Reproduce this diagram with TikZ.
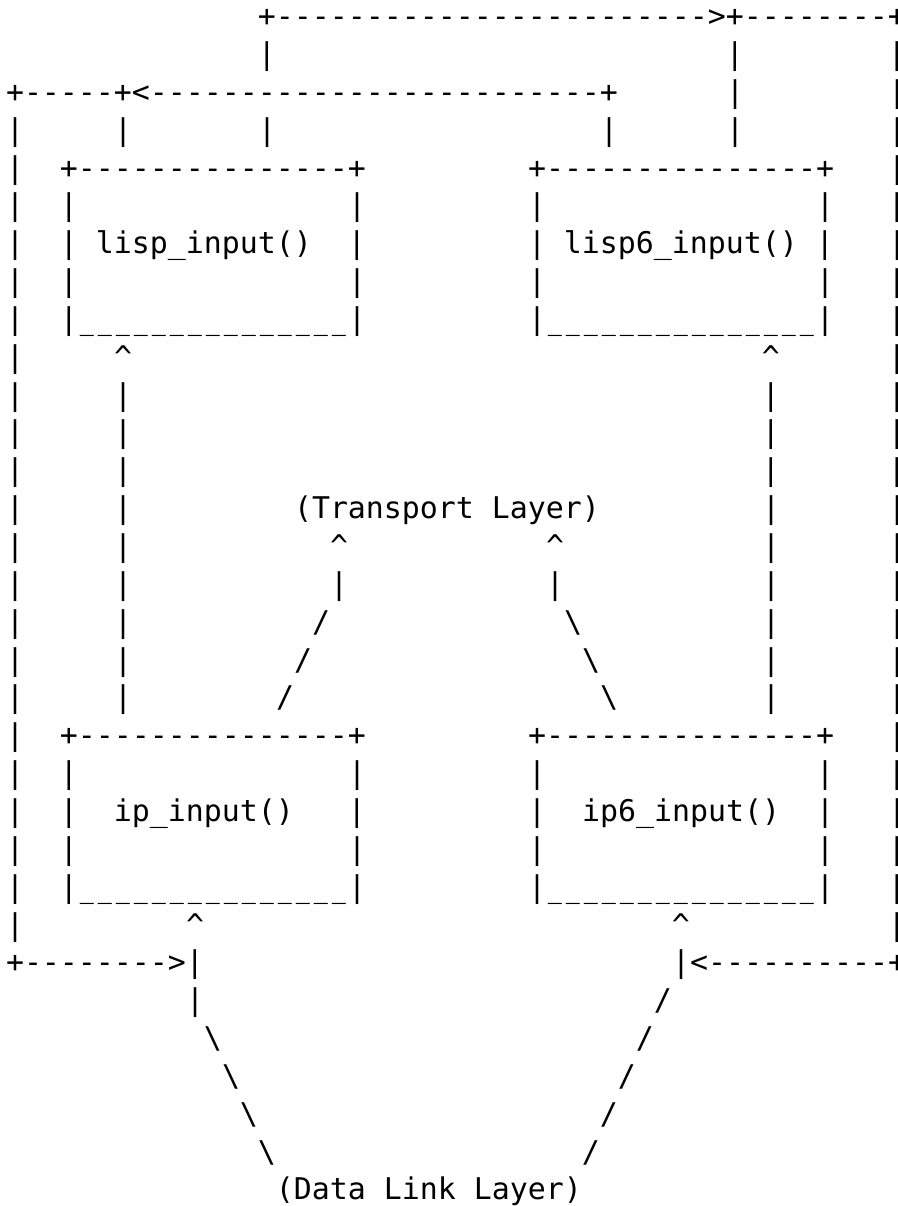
\documentclass[tikz,border=0pt]{standalone}
\usepackage{fontspec}
\usepackage{graphicx}
\setmonofont{DejaVu Sans Mono}
\newlength\colw
\setlength\colw{9pt}
\newcommand\gap[1]{\hspace*{#1\colw}}
\newcommand\caret{\textasciicircum}
\newcommand\bkslash{\textbackslash}
\newcommand\usc{\makebox[\colw]{\scalebox{0.78}[1]{\_}}}
\tikzset {
    ascii row/.style = {
        anchor = base west,
        inner sep = 0pt,
        outer sep = 0pt,
        font = \ttfamily\fontsize{14.95}{18.925}\selectfont
    },
}

\begin{document}
\begin{tikzpicture}[y = -18.925pt]
            \useasboundingbox (0pt, 0pt) rectangle (449pt, -603pt);
            \begin{scope}[shift = {(3pt, -13.3pt)}]
            % feedback loop on top
            \node (r1) [ascii row] at (0, 0) {\gap{14}+------------------------>+--------+};
            \node (r2) [ascii row] at (0, 1) {\gap{14}|\gap{25}|\gap{8}|};
            \node (r3) [ascii row] at (0, 2) {+-----+<-------------------------+\gap{6}|\gap{8}|};
            \node (r4) [ascii row] at (0, 3) {|\gap{5}|\gap{7}|\gap{18}|\gap{6}|\gap{8}|};
            % lisp boxes
            \node (r5) [ascii row] at (0, 4) {|\gap{2}+---------------+\gap{9}+---------------+\gap{3}|};
            \node (r6) [ascii row] at (0, 5) {|\gap{2}|\gap{15}|\gap{9}|\gap{15}|\gap{3}|};
            \node (r7) [ascii row] at (0, 6) {|\gap{2}|\gap{1}lisp\_input()\gap{2}|\gap{9}|\gap{1}lisp6\_input()\gap{1}|\gap{3}|};
            \node (r8) [ascii row] at (0, 7) {|\gap{2}|\gap{15}|\gap{9}|\gap{15}|\gap{3}|};
            \node (r9) [ascii row] at (0, 8) {|\gap{2}|\usc\usc\usc\usc\usc\usc\usc\usc\usc\usc\usc\usc\usc\usc\usc|\gap{9}|\usc\usc\usc\usc\usc\usc\usc\usc\usc\usc\usc\usc\usc\usc\usc|\gap{3}|};
            % middle part
            \node (r10) [ascii row] at (0, 9) {|\gap{5}\caret\gap{35}\caret\gap{6}|};
            \node (r11) [ascii row] at (0, 10) {|\gap{5}|\gap{35}|\gap{6}|};
            \node (r12) [ascii row] at (0, 11) {|\gap{5}|\gap{35}|\gap{6}|};
            \node (r13) [ascii row] at (0, 12) {|\gap{5}|\gap{35}|\gap{6}|};
            \node (r14) [ascii row] at (0, 13) {|\gap{5}|\gap{9}(Transport\gap{1}Layer)\gap{9}|\gap{6}|};
            \node (r15) [ascii row] at (0, 14) {|\gap{5}|\gap{11}\caret\gap{11}\caret\gap{11}|\gap{6}|};
            \node (r16) [ascii row] at (0, 15) {|\gap{5}|\gap{11}|\gap{11}|\gap{11}|\gap{6}|};
            \node (r17) [ascii row] at (0, 16) {|\gap{5}|\gap{10}/\gap{13}\bkslash\gap{10}|\gap{6}|};
            \node (r18) [ascii row] at (0, 17) {|\gap{5}|\gap{9}/\gap{15}\bkslash\gap{9}|\gap{6}|};
            \node (r19) [ascii row] at (0, 18) {|\gap{5}|\gap{8}/\gap{17}\bkslash\gap{8}|\gap{6}|};
            % ip boxes
            \node (r20) [ascii row] at (0, 19) {|\gap{2}+---------------+\gap{9}+---------------+\gap{3}|};
            \node (r21) [ascii row] at (0, 20) {|\gap{2}|\gap{15}|\gap{9}|\gap{15}|\gap{3}|};
            \node (r22) [ascii row] at (0, 21) {|\gap{2}|\gap{2}ip\_input()\gap{3}|\gap{9}|\gap{2}ip6\_input()\gap{2}|\gap{3}|};
            \node (r23) [ascii row] at (0, 22) {|\gap{2}|\gap{15}|\gap{9}|\gap{15}|\gap{3}|};
            \node (r24) [ascii row] at (0, 23) {|\gap{2}|\usc\usc\usc\usc\usc\usc\usc\usc\usc\usc\usc\usc\usc\usc\usc|\gap{9}|\usc\usc\usc\usc\usc\usc\usc\usc\usc\usc\usc\usc\usc\usc\usc|\gap{3}|};
            % link layer
            \node (r25) [ascii row] at (0, 24) {|\gap{9}\caret\gap{26}\caret\gap{11}|};
            \node (r26) [ascii row] at (0, 25) {+-------->|\gap{26}|<----------+};
            \node (r27) [ascii row] at (0, 26) {\gap{10}|\gap{25}/};
            \node (r28) [ascii row] at (0, 27) {\gap{11}\bkslash\gap{23}/};
            \node (r29) [ascii row] at (0, 28) {\gap{12}\bkslash\gap{21}/};
            \node (r30) [ascii row] at (0, 29) {\gap{13}\bkslash\gap{19}/};
            \node (r31) [ascii row] at (0, 30) {\gap{14}\bkslash\gap{17}/};
            \node (r32) [ascii row] at (0, 31) {\gap{15}(Data\gap{1}Link\gap{1}Layer)};
            \end{scope}
        \end{tikzpicture}
\end{document}
